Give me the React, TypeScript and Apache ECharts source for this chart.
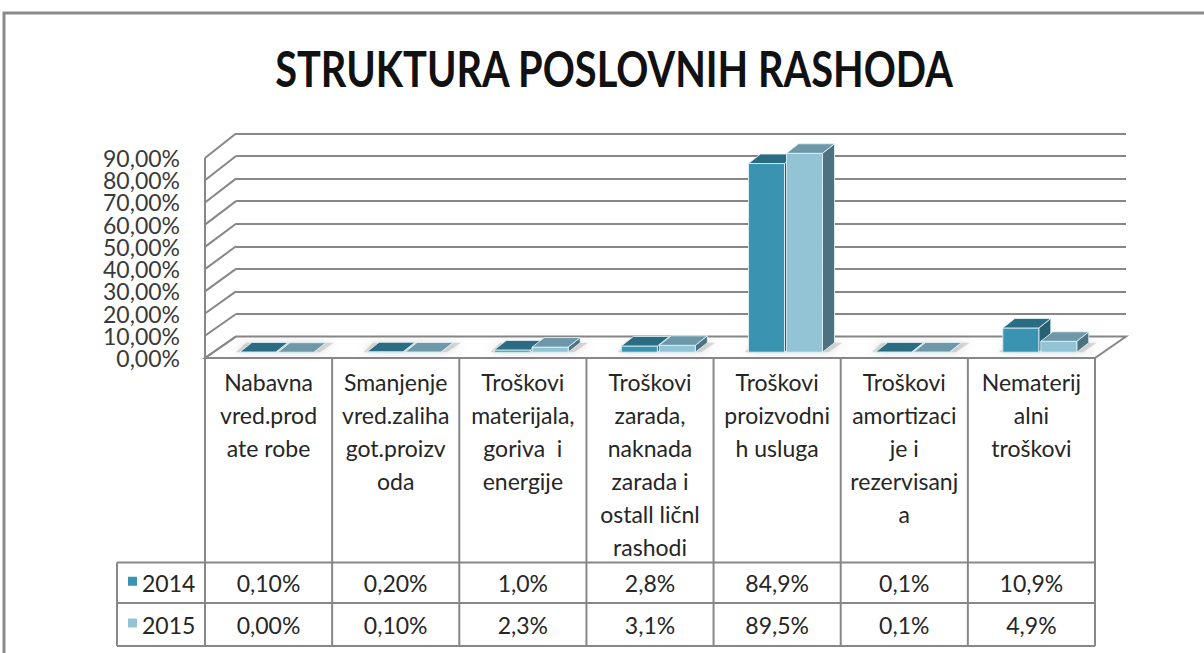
import React, { useEffect, useRef } from "react";
import * as echarts from "echarts";

// ---------- data ----------
const chartTitle = "STRUKTURA POSLOVNIH RASHODA";
const categories = [
  "Nabavna\nvred.prod\nate robe",
  "Smanjenje\nvred.zaliha\ngot.proizv\noda",
  "Troškovi\nmaterijala,\ngoriva  i\nenergije",
  "Troškovi\nzarada,\nnaknada\nzarada i\nostall ličnl\nrashodi",
  "Troškovi\nproizvodni\nh usluga",
  "Troškovi\namortizaci\nje i\nrezervisanj\na",
  "Nematerij\nalni\ntroškovi",
];
const years = ["2014", "2015"];
const values2014 = [0.1, 0.2, 1.0, 2.8, 84.9, 0.1, 10.9];
const values2015 = [0.0, 0.1, 2.3, 3.1, 89.5, 0.1, 4.9];
const tableLabels2014 = ["0,10%", "0,20%", "1,0%", "2,8%", "84,9%", "0,1%", "10,9%"];
const tableLabels2015 = ["0,00%", "0,10%", "2,3%", "3,1%", "89,5%", "0,1%", "4,9%"];
const yTickValues = [0, 10, 20, 30, 40, 50, 60, 70, 80, 90];
const yTickLabels = ["0,00%", "10,00%", "20,00%", "30,00%", "40,00%", "50,00%", "60,00%", "70,00%", "80,00%", "90,00%"];

// ---------- style / layout ----------
const W = 1204;
const H = 653;
const FONT = "Lato, 'Open Sans', sans-serif";
const TEXT_COLOR = "#262626";
const LINE_COLOR = "#878787";
const PLOT_L = 205;
const PLOT_R = 1095;
const FRONT_Y0 = 358;
const FRONT_TOP = 158;
const DX = 31;
const BACK_Y0 = 336.5;
const BACK_TOP = 133.5;
const BACK_L = PLOT_L + DX;
const BACK_R = PLOT_R + DX;
const BAR_W_RATIO = 0.283;
const BAR_GAP = 2;
const BAR_D0 = 0.27;
const BAR_DDX = 12;
const BAR_DDY = -9.5;
const HEADER_BOTTOM = 562.5;
const ROW1_BOTTOM = 603;
const ROW2_BOTTOM = 646;
const LEGEND_LEFT = 117;

const palette = [
  { front: "#3a93b0", top: "#2c6c83", side: "#286073", key: "#3a93b0" },
  { front: "#93c4d6", top: "#6e98a8", side: "#4c7282", key: "#93c4d6" },
];

const YMAX = yTickValues[yTickValues.length - 1];
const YSTEP = yTickValues[1] - yTickValues[0];
const backY = (v: number) => BACK_Y0 - (v / YMAX) * (BACK_Y0 - BACK_TOP);

function wallRender(params: any, api: any) {
  const cs = params.coordSys;
  const left = cs.x;
  const right = cs.x + cs.width;
  const y0 = api.coord([0, 0])[1];
  const yTop = api.coord([0, YMAX])[1];
  const children: any[] = [];
  children.push({
    type: "polygon",
    shape: { points: [[left, y0], [right, y0], [right + DX, backY(0)], [left + DX, backY(0)]] },
    style: { fill: "#ffffff", stroke: LINE_COLOR, lineWidth: 2 },
  });
  yTickValues.forEach((v) => {
    const fy = api.coord([0, v])[1];
    children.push({
      type: "line",
      shape: { x1: left, y1: fy, x2: left + DX, y2: backY(v) },
      style: { stroke: LINE_COLOR, lineWidth: 2 },
    });
  });
  children.push({
    type: "line",
    shape: { x1: left, y1: y0, x2: left, y2: yTop },
    style: { stroke: LINE_COLOR, lineWidth: 2 },
  });
  return { type: "group", children };
}

function makeBarRender(idx: number) {
  const col = palette[idx];
  return (params: any, api: any) => {
    const i = api.value(0);
    const v = api.value(1);
    const [cx, yb0] = api.coord([i, 0]);
    const yt0 = api.coord([i, v])[1];
    const band = api.size([1, 0])[0];
    const bw = band * BAR_W_RATIO;
    const sx = BAR_D0 * DX;
    const sy = BAR_D0 * (BACK_Y0 - FRONT_Y0);
    const x0 = (idx === 0 ? cx - BAR_GAP / 2 - bw : cx + BAR_GAP / 2) + sx;
    const x1 = x0 + bw;
    const yb = yb0 + sy;
    const yt = yt0 + sy;
    const edge = { stroke: "rgba(225,242,248,0.85)", lineWidth: 1, lineJoin: "round" };
    const children: any[] = [];
    if (idx === 0) {
      children.push({
        type: "polygon",
        shape: { points: [[x0 - 4, yb], [x1 + bw + BAR_GAP + 6, yb], [x1 + bw + BAR_GAP + BAR_DDX + 8, yb + BAR_DDY], [x0 + BAR_DDX - 6, yb + BAR_DDY]] },
        style: { fill: "rgba(150,150,150,0.35)", shadowBlur: 10, shadowColor: "rgba(90,90,90,0.6)" },
        z2: 0,
      });
    }
    children.push({
      type: "polygon",
      shape: { points: [[x1, yt], [x1 + BAR_DDX, yt + BAR_DDY], [x1 + BAR_DDX, yb + BAR_DDY], [x1, yb]] },
      style: { fill: col.side, ...edge },
      z2: 1,
    });
    children.push({
      type: "rect",
      shape: { x: x0, y: yt, width: bw, height: Math.max(yb - yt, 0.01) },
      style: { fill: col.front, ...edge },
      z2: 2,
    });
    children.push({
      type: "polygon",
      shape: { points: [[x0, yt], [x1, yt], [x1 + BAR_DDX, yt + BAR_DDY], [x0 + BAR_DDX, yt + BAR_DDY]] },
      style: { fill: col.top, ...edge },
      z2: 3,
    });
    return { type: "group", children };
  };
}

function buildTable() {
  const els: any[] = [];
  const n = categories.length;
  const colW = (PLOT_R - PLOT_L) / n;
  const line = (x1: number, y1: number, x2: number, y2: number) => ({
    type: "line",
    shape: { x1, y1, x2, y2 },
    style: { stroke: LINE_COLOR, lineWidth: 2 },
    z: 20,
  });
  for (let k = 0; k <= n; k++) {
    const x = PLOT_L + k * colW;
    els.push(line(x, FRONT_Y0, x, ROW2_BOTTOM));
  }
  els.push(line(LEGEND_LEFT, HEADER_BOTTOM, LEGEND_LEFT, ROW2_BOTTOM));
  els.push(line(LEGEND_LEFT, HEADER_BOTTOM, PLOT_R, HEADER_BOTTOM));
  els.push(line(LEGEND_LEFT, ROW1_BOTTOM, PLOT_R, ROW1_BOTTOM));
  els.push(line(LEGEND_LEFT, ROW2_BOTTOM, PLOT_R, ROW2_BOTTOM));
  const rowsY = [(HEADER_BOTTOM + ROW1_BOTTOM) / 2, (ROW1_BOTTOM + ROW2_BOTTOM) / 2];
  const rowLabels = [tableLabels2014, tableLabels2015];
  categories.forEach((c, i) => {
    const cx = PLOT_L + (i + 0.5) * colW;
    els.push({
      type: "text",
      z: 21,
      style: {
        text: c, x: cx, y: FRONT_Y0 + 7, align: "center", verticalAlign: "top",
        lineHeight: 33, fontSize: 23, fontFamily: FONT, fill: TEXT_COLOR,
      },
    });
    rowLabels.forEach((labels, r) => {
      els.push({
        type: "text",
        z: 21,
        style: {
          text: labels[i], x: cx, y: rowsY[r], align: "center", verticalAlign: "middle",
          fontSize: 23, fontFamily: FONT, fill: TEXT_COLOR,
        },
      });
    });
  });
  years.forEach((yr, r) => {
    els.push({
      type: "rect",
      z: 21,
      shape: { x: 128, y: rowsY[r] - 6, width: 9, height: 9 },
      style: { fill: palette[r].key },
    });
    els.push({
      type: "text",
      z: 21,
      style: {
        text: yr, x: 142, y: rowsY[r], align: "left", verticalAlign: "middle",
        fontSize: 23, fontFamily: FONT, fill: TEXT_COLOR,
      },
    });
  });
  return els;
}

function buildOption() {
  return {
    animation: false,
    backgroundColor: "#ffffff",
    grid: [
      { left: PLOT_L, right: W - PLOT_R, top: FRONT_TOP, bottom: H - FRONT_Y0 },
      { left: BACK_L, right: W - BACK_R, top: BACK_TOP, bottom: H - BACK_Y0 },
    ],
    xAxis: [
      { type: "category", data: categories, gridIndex: 0, show: false },
      { type: "category", data: categories, gridIndex: 1, show: false },
    ],
    yAxis: [
      // value scale used by the bars and side wall (front plane)
      {
        type: "value", gridIndex: 0, min: 0, max: YMAX, interval: YSTEP, show: false,
      },
      // back wall with its gridlines
      {
        type: "value", gridIndex: 1, min: 0, max: YMAX, interval: YSTEP,
        axisLine: { show: false }, axisTick: { show: false }, axisLabel: { show: false },
        splitLine: { show: true, lineStyle: { color: LINE_COLOR, width: 2 } },
      },
      // tick labels on the front plane, one per tick value (all shown)
      {
        type: "category", gridIndex: 0, position: "left", boundaryGap: false,
        data: yTickLabels,
        axisLine: { show: false }, axisTick: { show: false }, splitLine: { show: false },
        axisLabel: {
          interval: 0, fontSize: 23, color: "#3a3a3a", fontFamily: FONT,
          margin: 25, padding: [4, 0, 0, 0],
        },
      },
    ],
    graphic: [
      {
        type: "rect", z: 0, silent: true,
        shape: { x: 4, y: 13, width: 1400, height: 1000 },
        style: { fill: "none", stroke: "#8a8a8a", lineWidth: 3 },
      },
      {
        type: "text", z: 30, x: 614, y: 68, scaleY: 1.27,
        style: {
          text: chartTitle, x: 0, y: 0, align: "center", verticalAlign: "middle",
          fontSize: 39.8, fontWeight: "bold", fontFamily: FONT, fill: "#111111",
        },
      },
      ...buildTable(),
    ],
    series: [
      {
        type: "custom", name: "walls", xAxisIndex: 0, yAxisIndex: 0, z: 1,
        data: [[0, 0]], renderItem: wallRender, silent: true,
      },
      {
        type: "custom", name: years[0], xAxisIndex: 0, yAxisIndex: 0, z: 3,
        data: values2014.map((v, i) => [i, v]), renderItem: makeBarRender(0),
      },
      {
        type: "custom", name: years[1], xAxisIndex: 0, yAxisIndex: 0, z: 4,
        data: values2015.map((v, i) => [i, v]), renderItem: makeBarRender(1),
      },
    ],
  };
}

export default function App() {
  const ref = useRef<HTMLDivElement>(null);
  useEffect(() => {
    const chart = echarts.init(ref.current!, null, { renderer: "svg" });
    chart.setOption(buildOption() as any);
    return () => chart.dispose();
  }, []);
  return (
    <div
      ref={ref}
      style={{ position: "fixed", left: 0, top: 0, width: W, height: H, background: "#ffffff" }}
    />
  );
}
